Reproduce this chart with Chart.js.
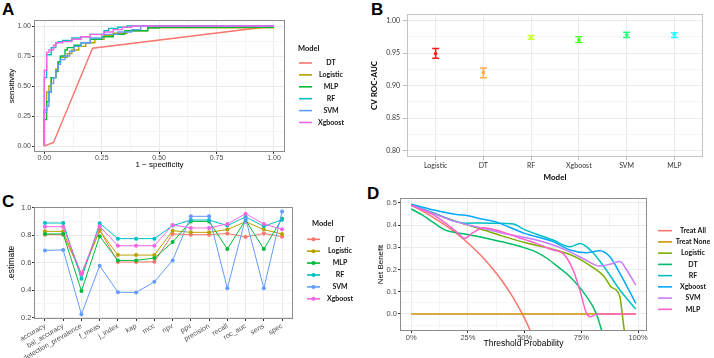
<!DOCTYPE html>
<html>
<head>
<meta charset="utf-8">
<script src="https://cdn.jsdelivr.net/npm/chart.js@4.4.0/dist/chart.umd.min.js"></script>
<style>
    body { margin: 0; width: 714px; height: 358px; background: #fff; position: relative; overflow: hidden; }
    canvas { position: absolute; }
    .tag { position: absolute; font: bold 17px "Liberation Sans", Arial, sans-serif; line-height: 1; color: #000; }
</style>
</head>
<body>
<div class="tag" style="left:2px;top:1px">A</div>
<div class="tag" style="left:371px;top:1px">B</div>
<div class="tag" style="left:2px;top:193px">C</div>
<div class="tag" style="left:367px;top:185px">D</div>
<canvas id="graficoA" width="360" height="172" style="left:0;top:0"></canvas>
<canvas id="graficoB" width="354" height="182" style="left:360px;top:0"></canvas>
<canvas id="graficoC" width="360" height="176" style="left:0;top:182px"></canvas>
<canvas id="graficoD" width="354" height="176" style="left:360px;top:182px"></canvas>
<script>
// ---------- datos panel A (ROC) ----------
const rocModels = ["DT", "Logistic", "MLP", "RF", "SVM", "Xgboost"];
const rocColors = ["#F8766D", "#B79F00", "#00BA38", "#00BFC4", "#619CFF", "#F564E3"];
const fprDT = [0, 0.04, 0.21, 1];
const sensDT = [0, 0.03, 0.815, 1];
const fprLogistic = [0, 0.01, 0.02, 0.03, 0.05, 0.06, 0.07, 0.10, 0.12, 0.15, 0.18, 0.22, 0.26, 0.30, 0.36, 0.45, 0.63, 1];
const sensLogistic = [0, 0.30, 0.45, 0.50, 0.57, 0.64, 0.70, 0.74, 0.77, 0.80, 0.83, 0.86, 0.89, 0.92, 0.94, 0.96, 0.985, 0.985];
const fprMLP = [0, 0.01, 0.02, 0.03, 0.05, 0.06, 0.07, 0.09, 0.10, 0.13, 0.16, 0.20, 0.25, 0.30, 0.35, 0.45, 0.50, 1];
const sensMLP = [0, 0.22, 0.37, 0.45, 0.57, 0.62, 0.70, 0.75, 0.80, 0.82, 0.84, 0.86, 0.89, 0.91, 0.93, 0.96, 0.985, 0.99];
const fprRF = [0, 0, 0.01, 0.03, 0.05, 0.06, 0.08, 0.12, 0.16, 0.20, 0.26, 0.28, 0.32, 0.36, 0.38, 1];
const sensRF = [0, 0.44, 0.57, 0.76, 0.82, 0.86, 0.87, 0.88, 0.90, 0.91, 0.93, 0.96, 0.98, 0.99, 1, 1];
const fprSVM = [0, 0.01, 0.02, 0.03, 0.04, 0.05, 0.06, 0.07, 0.09, 0.11, 0.13, 0.16, 0.20, 0.25, 0.32, 0.38, 0.42, 0.46, 1];
const sensSVM = [0, 0.28, 0.33, 0.45, 0.52, 0.57, 0.63, 0.68, 0.72, 0.75, 0.79, 0.83, 0.86, 0.90, 0.93, 0.95, 0.97, 1, 1];
const fprXgboost = [0, 0, 0.01, 0.02, 0.04, 0.05, 0.08, 0.12, 0.16, 0.20, 0.26, 0.30, 0.34, 0.38, 0.45, 1];
const sensXgboost = [0, 0.57, 0.63, 0.78, 0.80, 0.84, 0.86, 0.87, 0.89, 0.91, 0.93, 0.95, 0.97, 0.99, 1, 1];

// ---------- datos panel B (CV ROC-AUC) ----------
const cvModels = ["Logistic", "DT", "RF", "Xgboost", "SVM", "MLP"];
const cvMean = [0.949, 0.920, 0.974, 0.970, 0.978, 0.978];
const cvLow = [0.942, 0.912, 0.971, 0.966, 0.974, 0.974];
const cvHigh = [0.957, 0.927, 0.977, 0.975, 0.982, 0.981];
const cvColors = ["#FF1A1A", "#FFAA44", "#CCFF33", "#55FF2A", "#2AFF80", "#2AFFFF"];

// ---------- datos panel C (metricas) ----------
const metricas = ["accuracy", "bal_accuracy", "detection_prevalence", "f_meas", "j_index", "kap", "mcc",
    "npv", "ppv", "precision", "recall", "roc_auc", "sens", "spec"];
const estDT = [0.805, 0.805, 0.522, 0.840, 0.605, 0.605, 0.607, 0.810, 0.805, 0.805, 0.814, 0.788, 0.814, 0.790];
const estLogistic = [0.829, 0.829, 0.512, 0.834, 0.656, 0.656, 0.656, 0.834, 0.822, 0.822, 0.842, 0.900, 0.842, 0.810];
const estMLP = [0.810, 0.810, 0.393, 0.793, 0.617, 0.617, 0.634, 0.751, 0.902, 0.902, 0.700, 0.912, 0.700, 0.922];
const estRF = [0.890, 0.890, 0.483, 0.888, 0.776, 0.776, 0.776, 0.871, 0.912, 0.912, 0.871, 0.935, 0.866, 0.914];
const estSVM = [0.690, 0.693, 0.224, 0.578, 0.385, 0.383, 0.461, 0.617, 0.939, 0.939, 0.413, 0.925, 0.413, 0.975];
const estXgboost = [0.863, 0.863, 0.515, 0.866, 0.724, 0.724, 0.724, 0.876, 0.854, 0.854, 0.883, 0.958, 0.883, 0.844];

// ---------- datos panel D (curva de decision) ----------
const dcaModels = ["Treat All", "Treat None", "Logistic", "DT", "RF", "Xgboost", "SVM", "MLP"];
const dcaColors = ["#F8766D", "#CD9600", "#7CAE00", "#00BE67", "#00BFC4", "#00A9FF", "#C77CFF", "#FF61CC"];
const thrAll = [0, 0.05, 0.1, 0.15, 0.2, 0.25, 0.3, 0.35, 0.4, 0.45, 0.5, 0.55];
const nbAll = [0.49, 0.463, 0.433, 0.40, 0.363, 0.32, 0.271, 0.215, 0.15, 0.073, -0.02, -0.133];
const thrNone = [0, 0.99];
const nbNone = [0, 0];
const thrLogistic = [0, 0.1, 0.2, 0.3, 0.4, 0.5, 0.6, 0.7, 0.75, 0.8, 0.85, 0.88, 0.92, 0.93, 0.94];
const nbLogistic = [0.49, 0.452, 0.416, 0.385, 0.352, 0.322, 0.298, 0.268, 0.243, 0.21, 0.17, 0.123, 0.078, 0.003, -0.08];
const thrDT = [0, 0.05, 0.1, 0.15, 0.2, 0.25, 0.3, 0.35, 0.4, 0.45, 0.5, 0.55, 0.6, 0.65, 0.7, 0.75, 0.8, 0.82, 0.84];
const nbDT = [0.473, 0.445, 0.41, 0.378, 0.366, 0.358, 0.348, 0.337, 0.325, 0.313, 0.298, 0.28, 0.25, 0.21, 0.168, 0.11, 0.035, -0.01, -0.075];
const thrRF = [0, 0.1, 0.2, 0.25, 0.3, 0.37, 0.45, 0.5, 0.55, 0.625, 0.7, 0.745, 0.79, 0.85, 0.92, 0.99];
const nbRF = [0.49, 0.455, 0.415, 0.409, 0.41, 0.409, 0.405, 0.38, 0.36, 0.333, 0.303, 0.318, 0.288, 0.213, 0.108, 0.022];
const thrXgboost = [0, 0.1, 0.2, 0.25, 0.3, 0.37, 0.5, 0.625, 0.7, 0.77, 0.83, 0.876, 0.92, 0.99];
const nbXgboost = [0.494, 0.468, 0.448, 0.443, 0.43, 0.416, 0.363, 0.326, 0.288, 0.276, 0.285, 0.258, 0.183, 0.048];
const thrSVM = [0, 0.1, 0.2, 0.3, 0.4, 0.5, 0.6, 0.7, 0.77, 0.83, 0.88, 0.92, 0.95, 0.99];
const nbSVM = [0.49, 0.452, 0.415, 0.39, 0.365, 0.345, 0.32, 0.28, 0.243, 0.216, 0.225, 0.236, 0.198, 0.13];
const thrMLP = [0, 0.1, 0.15, 0.2, 0.235, 0.27, 0.32, 0.4, 0.5, 0.55, 0.625, 0.67, 0.714, 0.743, 0.773, 0.79, 0.82, 0.9, 0.99];
const nbMLP = [0.49, 0.445, 0.41, 0.37, 0.341, 0.365, 0.389, 0.37, 0.335, 0.318, 0.288, 0.272, 0.198, 0.108, 0.003, -0.012, 0, 0, 0];

// ---------- utilidades ----------
const pts = (xs, ys) => xs.map((x, i) => ({ x: x, y: ys[i] }));
const esMayor = (v, mayores) => mayores.some((m) => Math.abs(m - v) < 1e-9);

function escala(o) {
    const todos = o.mayores.concat(o.menores || []).sort((a, b) => a - b);
    return {
        type: "linear",
        min: o.min,
        max: o.max,
        afterBuildTicks: (s) => { s.ticks = todos.map((v) => ({ value: v })); },
        afterFit: (s) => { if (s.isHorizontal()) s.height = o.size; else s.width = o.size; },
        border: { display: false },
        grid: {
            color: (c) => esMayor(c.tick.value, o.mayores) ? (o.gridMayor || "#EBEBEB") : (o.gridMenor || "#F5F5F5"),
            tickColor: (c) => esMayor(c.tick.value, o.mayores) ? (o.tickColor || "#333333") : "rgba(0,0,0,0)",
            tickLength: o.tickLength || 2,
            lineWidth: 1,
        },
        ticks: {
            autoSkip: false,
            padding: o.pad || 0,
            color: o.labelColor || "#4D4D4D",
            font: o.font,
            maxRotation: o.rot || 0,
            minRotation: o.rot || 0,
            callback: (v) => esMayor(v, o.mayores) ? o.fmt(v) : "",
        },
        title: {
            display: !!o.title,
            text: o.title,
            color: "#000",
            font: o.titleFont,
            padding: o.titlePad || 0,
        },
    };
}

const marco = {
    id: "marco",
    afterDatasetsDraw(chart, args, opts) {
        const a = chart.chartArea;
        const ctx = chart.ctx;
        ctx.save();
        ctx.strokeStyle = opts.color;
        ctx.lineWidth = 1;
        ctx.strokeRect(Math.round(a.left) + 0.5, Math.round(a.top) + 0.5, Math.round(a.right - a.left) - 1, Math.round(a.bottom - a.top) - 1);
        ctx.restore();
    },
};

const leyenda = {
    id: "leyenda",
    afterDraw(chart, args, opts) {
        const ctx = chart.ctx;
        ctx.save();
        ctx.fillStyle = "#111";
        ctx.textBaseline = "middle";
        if (opts.titulo) {
            ctx.font = "bold 7.5px Lato";
            ctx.textAlign = "left";
            ctx.fillText(opts.titulo, opts.tx, opts.ty);
        }
        ctx.font = "bold 7px Lato";
        ctx.textAlign = "center";
        chart.data.datasets.forEach((ds, i) => {
            const y = opts.y0 + i * opts.dy;
            ctx.strokeStyle = ds.borderColor;
            ctx.lineWidth = 1.6;
            ctx.beginPath();
            ctx.moveTo(opts.x1, y);
            ctx.lineTo(opts.x2, y);
            ctx.stroke();
            if (opts.puntos) {
                ctx.fillStyle = ds.borderColor;
                ctx.beginPath();
                ctx.arc((opts.x1 + opts.x2) / 2, y, 2, 0, Math.PI * 2);
                ctx.fill();
                ctx.fillStyle = "#111";
            }
            ctx.fillText(ds.label, opts.lx, y);
        });
        ctx.restore();
    },
};

const barrasError = {
    id: "barrasError",
    beforeDatasetsDraw(chart) {
        const x = chart.scales.x;
        const y = chart.scales.y;
        const ctx = chart.ctx;
        ctx.save();
        cvModels.forEach((m, i) => {
            const px = x.getPixelForValue(i);
            const y1 = y.getPixelForValue(cvLow[i]);
            const y2 = y.getPixelForValue(cvHigh[i]);
            ctx.strokeStyle = cvColors[i];
            ctx.lineWidth = 1.5;
            ctx.beginPath();
            ctx.moveTo(px, y1); ctx.lineTo(px, y2);
            ctx.moveTo(px - 3.5, y1); ctx.lineTo(px + 3.5, y1);
            ctx.moveTo(px - 3.5, y2); ctx.lineTo(px + 3.5, y2);
            ctx.stroke();
        });
        ctx.restore();
    },
};

Chart.defaults.font.family = "'Liberation Sans', Arial, sans-serif";
Chart.defaults.animation = false;

const fuenteTick = { family: "'Liberation Sans', Arial, sans-serif", size: 7 };
const fuenteTitulo = { family: "'Liberation Sans', Arial, sans-serif", size: 8 };

// ---------- panel A ----------
const rocFpr = [fprDT, fprLogistic, fprMLP, fprRF, fprSVM, fprXgboost];
const rocSens = [sensDT, sensLogistic, sensMLP, sensRF, sensSVM, sensXgboost];

const chartA = new Chart(document.getElementById("graficoA"), {
    type: "scatter",
    data: {
        datasets: rocModels.map((m, i) => ({
            label: m,
            data: pts(rocFpr[i], rocSens[i]),
            showLine: true,
            stepped: i === 0 ? false : "after",
            borderColor: rocColors[i],
            borderWidth: 1.4,
            pointRadius: 0,
            order: -i,
        })),
    },
    plugins: [marco, leyenda],
    options: {
        responsive: false,
        layout: { padding: { left: 0, top: 20, right: 75, bottom: 0 }, autoPadding: false },
        plugins: {
            legend: { display: false },
            tooltip: { enabled: false },
            marco: { color: "#8C8C8C" },
            leyenda: { titulo: "Model", tx: 298, ty: 49, x1: 299, x2: 312, lx: 331, y0: 63, dy: 11.9 },
        },
        scales: {
            x: escala({ min: -0.045, max: 1.048, mayores: [0, 0.25, 0.5, 0.75, 1], menores: [0.125, 0.375, 0.625, 0.875],
                fmt: (v) => v.toFixed(2), size: 20, font: fuenteTick, pad: 0,
                title: "1 \u2212 specificity", titleFont: fuenteTitulo, titlePad: { top: 0, bottom: 2 } }),
            y: escala({ min: -0.05, max: 1.05, mayores: [0, 0.25, 0.5, 0.75, 1], menores: [0.125, 0.375, 0.625, 0.875],
                fmt: (v) => v.toFixed(2), size: 34, font: fuenteTick, pad: 1,
                title: "sensitivity", titleFont: fuenteTitulo, titlePad: { top: 7, bottom: 0 } }),
        },
    },
});

// ---------- panel B ----------
const fuenteB = { family: "Lato, sans-serif", size: 7 };
const chartB = new Chart(document.getElementById("graficoB"), {
    type: "scatter",
    data: {
        datasets: [
            {
                label: "CV ROC-AUC",
                data: pts(cvModels.map((m, i) => i), cvMean),
                pointRadius: 1.4,
                pointBackgroundColor: cvColors,
                pointBorderColor: cvColors,
            },
        ],
    },
    plugins: [marco, barrasError],
    options: {
        responsive: false,
        layout: { padding: { left: 0, top: 14, right: 11, bottom: 0 }, autoPadding: false },
        plugins: {
            legend: { display: false },
            tooltip: { enabled: false },
            marco: { color: "#C4C4C4" },
        },
        scales: {
            x: escala({ min: -0.6, max: 5.6, mayores: [0, 1, 2, 3, 4, 5], fmt: (v) => cvModels[Math.round(v)],
                size: 25, font: fuenteB, pad: 2, tickLength: 3, tickColor: "#BBBBBB", labelColor: "#333",
                title: "Model", titleFont: { family: "Lato, sans-serif", size: 8, weight: "bold" }, titlePad: { top: 0, bottom: 0 } }),
            y: escala({ min: 0.79, max: 1.01, mayores: [0.8, 0.85, 0.9, 0.95, 1], menores: [0.825, 0.875, 0.925, 0.975],
                fmt: (v) => v.toFixed(2), size: 47, font: fuenteB, pad: 3, tickLength: 4, tickColor: "#BBBBBB", labelColor: "#333",
                title: "CV ROC-AUC", titleFont: { family: "Lato, sans-serif", size: 8, weight: "bold" }, titlePad: { top: 10, bottom: 0 } }),
        },
    },
});

// ---------- panel C ----------
const estimaciones = [estDT, estLogistic, estMLP, estRF, estSVM, estXgboost];
const chartC = new Chart(document.getElementById("graficoC"), {
    type: "scatter",
    data: {
        datasets: rocModels.map((m, i) => ({
            label: m,
            data: pts(metricas.map((k, j) => j), estimaciones[i]),
            showLine: true,
            borderColor: rocColors[i],
            backgroundColor: rocColors[i],
            borderWidth: 1,
            pointRadius: 2,
            pointBorderWidth: 0,
            order: -i,
        })),
    },
    plugins: [marco, leyenda],
    options: {
        responsive: false,
        layout: { padding: { left: 0, top: 25, right: 67, bottom: 0 }, autoPadding: false },
        plugins: {
            legend: { display: false },
            tooltip: { enabled: false },
            marco: { color: "#8C8C8C" },
            leyenda: { titulo: "Model", tx: 312, ty: 41.3, x1: 307, x2: 320, lx: 340, y0: 57.3, dy: 11.9, puntos: true },
        },
        scales: {
            x: escala({ min: -0.6, max: 13.6, mayores: metricas.map((k, j) => j), fmt: (v) => metricas[Math.round(v)],
                size: 39, font: fuenteTick, pad: 1, rot: 30 }),
            y: escala({ min: 0.189, max: 1.007, mayores: [0.2, 0.4, 0.6, 0.8, 1.0], menores: [0.3, 0.5, 0.7, 0.9],
                fmt: (v) => v.toFixed(1), size: 34, font: { family: fuenteTick.family, size: 7.5 }, pad: 0.5,
                title: ".estimate", titleFont: { family: fuenteTick.family, size: 8.5 }, titlePad: { top: 7, bottom: 0 } }),
        },
    },
});

// ---------- panel D ----------
const dcaThr = [thrAll, thrNone, thrLogistic, thrDT, thrRF, thrXgboost, thrSVM, thrMLP];
const dcaNb = [nbAll, nbNone, nbLogistic, nbDT, nbRF, nbXgboost, nbSVM, nbMLP];
const chartD = new Chart(document.getElementById("graficoD"), {
    type: "scatter",
    data: {
        datasets: dcaModels.map((m, i) => ({
            label: m,
            data: pts(dcaThr[i], dcaNb[i]),
            showLine: true,
            cubicInterpolationMode: "monotone",
            borderColor: dcaColors[i],
            borderWidth: 1.5,
            pointRadius: 0,
            order: -i,
        })),
    },
    plugins: [marco, leyenda],
    options: {
        responsive: false,
        layout: { padding: { left: 0, top: 16, right: 67, bottom: 0 }, autoPadding: false },
        plugins: {
            legend: { display: false },
            tooltip: { enabled: false },
            marco: { color: "#8C8C8C" },
            leyenda: { x1: 298, x2: 312, lx: 333, y0: 48.7, dy: 11.23 },
        },
        scales: {
            x: escala({ min: -0.0495, max: 1.0395, mayores: [0, 0.25, 0.5, 0.75, 1], menores: [0.125, 0.375, 0.625, 0.875],
                fmt: (v) => Math.round(v * 100) + "%", size: 27, font: { family: fuenteTick.family, size: 7.5 }, pad: 0,
                title: "Threshold Probability", titleFont: { family: fuenteTick.family, size: 8.5 }, titlePad: { top: 0, bottom: 9 } }),
            y: escala({ min: -0.0766, max: 0.5225, mayores: [0, 0.1, 0.2, 0.3, 0.4, 0.5], menores: [-0.05, 0.05, 0.15, 0.25, 0.35, 0.45],
                fmt: (v) => v.toFixed(1), size: 40, font: { family: fuenteTick.family, size: 7.5 }, pad: 1,
                title: "Net Benefit", titleFont: { family: fuenteTick.family, size: 8 }, titlePad: { top: 16, bottom: 0 } }),
        },
    },
});
</script>
</body>
</html>
